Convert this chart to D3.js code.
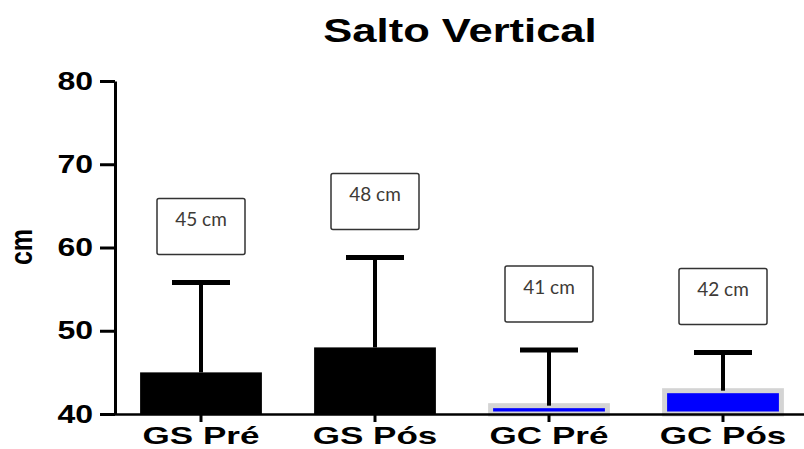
<!DOCTYPE html>
<html>
<head>
<meta charset="utf-8">
<script src="https://cdn.jsdelivr.net/npm/d3@7"></script>
<style>
  body { margin: 0; background: #fff; }
  svg { display: block; }
</style>
</head>
<body>
<div id="chart"></div>
<script>
var groups = ["GS Pré", "GS Pós", "GC Pré", "GC Pós"];
var means = [45.0, 48.0, 41.0, 42.8];
var sds = [10.8, 10.8, 6.7, 4.6];
var labels = ["45 cm", "48 cm", "41 cm", "42 cm"];
var yTicks = [40, 50, 60, 70, 80];

var W = 804, H = 449;
var svg = d3.select("#chart").append("svg")
    .attr("width", W).attr("height", H);

// the source image is stretched sideways, so text is too
function stretch(sel, f) {
    sel.each(function() {
        var L = this.getComputedTextLength();
        d3.select(this).attr("textLength", L * f).attr("lengthAdjust", "spacingAndGlyphs");
    });
}

var x = d3.scaleBand()
    .domain(groups)
    .range([114, 810])
    .paddingInner(0.3)
    .paddingOuter(0.15);

var y = d3.scaleLinear().domain([40, 80]).range([414, 81]);

var data = groups.map(function(g, i) {
    return { name: g, mean: means[i], sd: sds[i], label: labels[i], blue: i >= 2 };
});

// title
var title = svg.append("text")
    .attr("x", 460).attr("y", 42)
    .attr("text-anchor", "middle")
    .style("font-family", "Liberation Sans, Arial, sans-serif")
    .style("font-weight", "bold")
    .style("font-size", "34px")
    .text("Salto Vertical");
stretch(title, 1.28);

// y label
svg.append("text")
    .attr("transform", "translate(32,247) scale(1.28,1) rotate(-90)")
    .attr("text-anchor", "middle")
    .style("font-family", "Liberation Sans, Arial, sans-serif")
    .style("font-weight", "bold")
    .style("font-size", "25px")
    .text("cm");

// bars
svg.selectAll(".bar")
    .data(data)
    .enter().append("rect")
    .attr("class", "bar")
    .attr("x", function(d) { return d.blue ? x(d.name) + 2.5 : x(d.name); })
    .attr("width", function(d) { return d.blue ? x.bandwidth() - 5 : x.bandwidth(); })
    .attr("y", function(d) { return y(d.mean); })
    .attr("height", function(d) { return y(40) - y(d.mean); })
    .attr("fill", function(d) { return d.blue ? "#0000ff" : "#000"; })
    .attr("stroke", function(d) { return d.blue ? "#d4d4d4" : "none"; })
    .attr("stroke-width", 5);

// error bars (upper only)
var capW = 58;
var err = svg.selectAll(".err").data(data).enter().append("g").attr("class", "err");
err.append("line")
    .attr("x1", function(d) { return x(d.name) + x.bandwidth() / 2; })
    .attr("x2", function(d) { return x(d.name) + x.bandwidth() / 2; })
    .attr("y1", function(d) { return y(d.mean); })
    .attr("y2", function(d) { return y(d.mean + d.sd); })
    .attr("stroke", "#000").attr("stroke-width", 4);
err.append("line")
    .attr("x1", function(d) { return x(d.name) + x.bandwidth() / 2 - capW / 2; })
    .attr("x2", function(d) { return x(d.name) + x.bandwidth() / 2 + capW / 2; })
    .attr("y1", function(d) { return y(d.mean + d.sd); })
    .attr("y2", function(d) { return y(d.mean + d.sd); })
    .attr("stroke", "#000").attr("stroke-width", 5);

// value boxes
var boxW = 88, boxH = 56, gap = 28;
var box = svg.selectAll(".box").data(data).enter().append("g").attr("class", "box")
    .attr("transform", function(d) {
        var cx = x(d.name) + x.bandwidth() / 2;
        return "translate(" + (cx - boxW / 2) + "," + (y(d.mean + d.sd) - gap - boxH) + ")";
    });
box.append("rect")
    .attr("width", boxW).attr("height", boxH)
    .attr("rx", 2)
    .attr("fill", "#fff")
    .attr("stroke", "#333").attr("stroke-width", 1.5);
box.append("text")
    .attr("x", boxW / 2).attr("y", 28)
    .attr("text-anchor", "middle")
    .style("font-family", "Lato, sans-serif")
    .style("font-size", "19px")
    .style("fill", "#3d3a36")
    .text(function(d) { return d.label; });

// axes
var yAxis = svg.append("g")
    .attr("transform", "translate(115,0)")
    .call(d3.axisLeft(y).tickValues(yTicks).tickSize(15).tickPadding(7).tickSizeOuter(0));
yAxis.select(".domain").attr("stroke-width", 3);
yAxis.selectAll(".tick line").attr("stroke-width", 3);
yAxis.selectAll("text")
    .style("font-family", "Liberation Sans, Arial, sans-serif")
    .style("font-weight", "bold")
    .style("font-size", "25px")
    .attr("fill", "#000");
stretch(yAxis.selectAll("text"), 1.28);

var xAxis = svg.append("g")
    .attr("transform", "translate(0,414)")
    .call(d3.axisBottom(x).tickSize(8).tickPadding(4.5).tickSizeOuter(0));
xAxis.select(".domain").attr("stroke-width", 2.5);
xAxis.selectAll(".tick line").attr("stroke-width", 3);
xAxis.selectAll("text")
    .style("font-family", "Liberation Sans, Arial, sans-serif")
    .style("font-weight", "bold")
    .style("font-size", "24px")
    .attr("fill", "#000");
stretch(xAxis.selectAll("text"), 1.46);
</script>
</body>
</html>
